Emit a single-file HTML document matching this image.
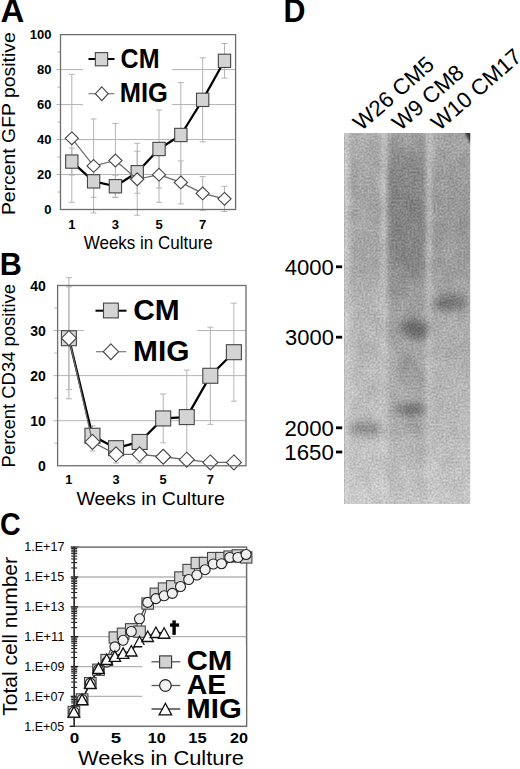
<!DOCTYPE html>
<html><head><meta charset="utf-8"><style>
html,body{margin:0;padding:0;background:#fff;width:520px;height:769px;overflow:hidden}
svg{display:block}
text{font-family:"Liberation Sans",sans-serif}
</style></head><body>
<svg width="520" height="769" viewBox="0 0 520 769" font-family="Liberation Sans, sans-serif">
<line x1="56.50" y1="174.52" x2="235.60" y2="174.52" stroke="#b4b4b4" stroke-width="1" />
<line x1="56.50" y1="139.54" x2="235.60" y2="139.54" stroke="#b4b4b4" stroke-width="1" />
<line x1="56.50" y1="104.56" x2="235.60" y2="104.56" stroke="#b4b4b4" stroke-width="1" />
<line x1="56.50" y1="69.58" x2="235.60" y2="69.58" stroke="#b4b4b4" stroke-width="1" />
<line x1="57.30" y1="192.01" x2="60.50" y2="192.01" stroke="#b4b4b4" stroke-width="1" />
<line x1="57.30" y1="157.03" x2="60.50" y2="157.03" stroke="#b4b4b4" stroke-width="1" />
<line x1="57.30" y1="122.05" x2="60.50" y2="122.05" stroke="#b4b4b4" stroke-width="1" />
<line x1="57.30" y1="87.07" x2="60.50" y2="87.07" stroke="#b4b4b4" stroke-width="1" />
<line x1="57.30" y1="52.09" x2="60.50" y2="52.09" stroke="#b4b4b4" stroke-width="1" />
<line x1="71.80" y1="74.32" x2="71.80" y2="202.32" stroke="#b4b4b4" stroke-width="1" />
<line x1="68.80" y1="74.32" x2="74.80" y2="74.32" stroke="#b4b4b4" stroke-width="1" />
<line x1="68.80" y1="202.32" x2="74.80" y2="202.32" stroke="#b4b4b4" stroke-width="1" />
<line x1="71.80" y1="148.08" x2="71.80" y2="175.08" stroke="#b4b4b4" stroke-width="1" />
<line x1="68.80" y1="148.08" x2="74.80" y2="148.08" stroke="#b4b4b4" stroke-width="1" />
<line x1="68.80" y1="175.08" x2="74.80" y2="175.08" stroke="#b4b4b4" stroke-width="1" />
<line x1="93.61" y1="118.95" x2="93.61" y2="212.95" stroke="#b4b4b4" stroke-width="1" />
<line x1="90.61" y1="118.95" x2="96.61" y2="118.95" stroke="#b4b4b4" stroke-width="1" />
<line x1="90.61" y1="212.95" x2="96.61" y2="212.95" stroke="#b4b4b4" stroke-width="1" />
<line x1="93.61" y1="165.34" x2="93.61" y2="197.34" stroke="#b4b4b4" stroke-width="1" />
<line x1="90.61" y1="165.34" x2="96.61" y2="165.34" stroke="#b4b4b4" stroke-width="1" />
<line x1="90.61" y1="197.34" x2="96.61" y2="197.34" stroke="#b4b4b4" stroke-width="1" />
<line x1="115.42" y1="123.53" x2="115.42" y2="197.53" stroke="#b4b4b4" stroke-width="1" />
<line x1="112.42" y1="123.53" x2="118.42" y2="123.53" stroke="#b4b4b4" stroke-width="1" />
<line x1="112.42" y1="197.53" x2="118.42" y2="197.53" stroke="#b4b4b4" stroke-width="1" />
<line x1="115.42" y1="175.24" x2="115.42" y2="197.24" stroke="#b4b4b4" stroke-width="1" />
<line x1="112.42" y1="175.24" x2="118.42" y2="175.24" stroke="#b4b4b4" stroke-width="1" />
<line x1="112.42" y1="197.24" x2="118.42" y2="197.24" stroke="#b4b4b4" stroke-width="1" />
<line x1="137.23" y1="143.24" x2="137.23" y2="215.24" stroke="#b4b4b4" stroke-width="1" />
<line x1="134.23" y1="143.24" x2="140.23" y2="143.24" stroke="#b4b4b4" stroke-width="1" />
<line x1="134.23" y1="215.24" x2="140.23" y2="215.24" stroke="#b4b4b4" stroke-width="1" />
<line x1="137.23" y1="151.25" x2="137.23" y2="193.25" stroke="#b4b4b4" stroke-width="1" />
<line x1="134.23" y1="151.25" x2="140.23" y2="151.25" stroke="#b4b4b4" stroke-width="1" />
<line x1="134.23" y1="193.25" x2="140.23" y2="193.25" stroke="#b4b4b4" stroke-width="1" />
<line x1="159.04" y1="147.09" x2="159.04" y2="202.29" stroke="#b4b4b4" stroke-width="1" />
<line x1="156.04" y1="147.09" x2="162.04" y2="147.09" stroke="#b4b4b4" stroke-width="1" />
<line x1="156.04" y1="202.29" x2="162.04" y2="202.29" stroke="#b4b4b4" stroke-width="1" />
<line x1="159.04" y1="109.98" x2="159.04" y2="187.98" stroke="#b4b4b4" stroke-width="1" />
<line x1="156.04" y1="109.98" x2="162.04" y2="109.98" stroke="#b4b4b4" stroke-width="1" />
<line x1="156.04" y1="187.98" x2="162.04" y2="187.98" stroke="#b4b4b4" stroke-width="1" />
<line x1="180.85" y1="160.89" x2="180.85" y2="203.89" stroke="#b4b4b4" stroke-width="1" />
<line x1="177.85" y1="160.89" x2="183.85" y2="160.89" stroke="#b4b4b4" stroke-width="1" />
<line x1="177.85" y1="203.89" x2="183.85" y2="203.89" stroke="#b4b4b4" stroke-width="1" />
<line x1="180.85" y1="82.59" x2="180.85" y2="187.39" stroke="#b4b4b4" stroke-width="1" />
<line x1="177.85" y1="82.59" x2="183.85" y2="82.59" stroke="#b4b4b4" stroke-width="1" />
<line x1="177.85" y1="187.39" x2="183.85" y2="187.39" stroke="#b4b4b4" stroke-width="1" />
<line x1="202.66" y1="176.61" x2="202.66" y2="210.21" stroke="#b4b4b4" stroke-width="1" />
<line x1="199.66" y1="176.61" x2="205.66" y2="176.61" stroke="#b4b4b4" stroke-width="1" />
<line x1="199.66" y1="210.21" x2="205.66" y2="210.21" stroke="#b4b4b4" stroke-width="1" />
<line x1="202.66" y1="57.84" x2="202.66" y2="141.84" stroke="#b4b4b4" stroke-width="1" />
<line x1="199.66" y1="57.84" x2="205.66" y2="57.84" stroke="#b4b4b4" stroke-width="1" />
<line x1="199.66" y1="141.84" x2="205.66" y2="141.84" stroke="#b4b4b4" stroke-width="1" />
<line x1="224.47" y1="186.23" x2="224.47" y2="211.43" stroke="#b4b4b4" stroke-width="1" />
<line x1="221.47" y1="186.23" x2="227.47" y2="186.23" stroke="#b4b4b4" stroke-width="1" />
<line x1="221.47" y1="211.43" x2="227.47" y2="211.43" stroke="#b4b4b4" stroke-width="1" />
<line x1="224.47" y1="43.53" x2="224.47" y2="78.13" stroke="#b4b4b4" stroke-width="1" />
<line x1="221.47" y1="43.53" x2="227.47" y2="43.53" stroke="#b4b4b4" stroke-width="1" />
<line x1="221.47" y1="78.13" x2="227.47" y2="78.13" stroke="#b4b4b4" stroke-width="1" />
<polyline points="71.80,161.58 93.61,181.34 115.42,186.24 137.23,172.25 159.04,148.98 180.85,134.99 202.66,99.84 224.47,60.83" fill="none" stroke="#000" stroke-width="2.2" stroke-linejoin="round"/>
<rect x="65.65" y="154.93" width="12.30" height="13.30" fill="#d4d4d4" stroke="#444" stroke-width="1.1"/>
<rect x="87.46" y="174.69" width="12.30" height="13.30" fill="#d4d4d4" stroke="#444" stroke-width="1.1"/>
<rect x="109.27" y="179.59" width="12.30" height="13.30" fill="#d4d4d4" stroke="#444" stroke-width="1.1"/>
<rect x="131.08" y="165.60" width="12.30" height="13.30" fill="#d4d4d4" stroke="#444" stroke-width="1.1"/>
<rect x="152.89" y="142.33" width="12.30" height="13.30" fill="#d4d4d4" stroke="#444" stroke-width="1.1"/>
<rect x="174.70" y="128.34" width="12.30" height="13.30" fill="#d4d4d4" stroke="#444" stroke-width="1.1"/>
<rect x="196.51" y="93.19" width="12.30" height="13.30" fill="#d4d4d4" stroke="#444" stroke-width="1.1"/>
<rect x="218.32" y="54.18" width="12.30" height="13.30" fill="#d4d4d4" stroke="#444" stroke-width="1.1"/>
<polyline points="71.80,138.32 93.61,165.95 115.42,160.53 137.23,179.24 159.04,174.69 180.85,182.39 202.66,193.41 224.47,198.83" fill="none" stroke="#6a6a6a" stroke-width="1.2" stroke-linejoin="round"/>
<polygon points="71.80,131.92 78.40,138.32 71.80,144.72 65.20,138.32" fill="#fff" stroke="#444" stroke-width="1.1"/>
<polygon points="93.61,159.55 100.21,165.95 93.61,172.35 87.01,165.95" fill="#fff" stroke="#444" stroke-width="1.1"/>
<polygon points="115.42,154.13 122.02,160.53 115.42,166.93 108.82,160.53" fill="#fff" stroke="#444" stroke-width="1.1"/>
<polygon points="137.23,172.84 143.83,179.24 137.23,185.64 130.63,179.24" fill="#fff" stroke="#444" stroke-width="1.1"/>
<polygon points="159.04,168.29 165.64,174.69 159.04,181.09 152.44,174.69" fill="#fff" stroke="#444" stroke-width="1.1"/>
<polygon points="180.85,175.99 187.45,182.39 180.85,188.79 174.25,182.39" fill="#fff" stroke="#444" stroke-width="1.1"/>
<polygon points="202.66,187.01 209.26,193.41 202.66,199.81 196.06,193.41" fill="#fff" stroke="#444" stroke-width="1.1"/>
<polygon points="224.47,192.43 231.07,198.83 224.47,205.23 217.87,198.83" fill="#fff" stroke="#444" stroke-width="1.1"/>
<rect x="83.00" y="39.00" width="89.00" height="70.00" fill="#fff"/>
<line x1="88.50" y1="59.00" x2="114.50" y2="59.00" stroke="#000" stroke-width="2" />
<rect x="95.35" y="52.60" width="12.30" height="13.20" fill="#d4d4d4" stroke="#444" stroke-width="1.1"/>
<line x1="88.50" y1="93.70" x2="114.50" y2="93.70" stroke="#7a7a7a" stroke-width="1.2" />
<polygon points="101.80,86.80 108.20,93.70 101.80,100.60 95.40,93.70" fill="#fff" stroke="#444" stroke-width="1.1"/>
<rect x="60.5" y="34.6" width="175.1" height="174.9" fill="none" stroke="#6e6e6e" stroke-width="1.3"/>
<text transform="translate(120.60,68.20) scale(0.9146,1)" font-size="27.39" font-weight="bold">CM</text>
<text transform="translate(119.74,102.20) scale(0.9314,1)" font-size="27.39" font-weight="bold">MIG</text>
<text x="51.40" y="214.10" font-size="13.00" font-weight="bold" text-anchor="end" fill="#000" >0</text>
<text x="51.40" y="179.12" font-size="13.00" font-weight="bold" text-anchor="end" fill="#000" >20</text>
<text x="51.40" y="144.14" font-size="13.00" font-weight="bold" text-anchor="end" fill="#000" >40</text>
<text x="51.40" y="109.16" font-size="13.00" font-weight="bold" text-anchor="end" fill="#000" >60</text>
<text x="51.40" y="74.18" font-size="13.00" font-weight="bold" text-anchor="end" fill="#000" >80</text>
<text x="51.40" y="39.20" font-size="13.00" font-weight="bold" text-anchor="end" fill="#000" >100</text>
<text x="71.80" y="228.80" font-size="13.00" font-weight="bold" text-anchor="middle" fill="#000" >1</text>
<text x="115.42" y="228.80" font-size="13.00" font-weight="bold" text-anchor="middle" fill="#000" >3</text>
<text x="159.04" y="228.80" font-size="13.00" font-weight="bold" text-anchor="middle" fill="#000" >5</text>
<text x="202.66" y="228.80" font-size="13.00" font-weight="bold" text-anchor="middle" fill="#000" >7</text>
<text transform="translate(83.71,248.80) scale(0.9539,1)" font-size="17.83">Weeks in Culture</text>
<text transform="translate(14.90,215.05) rotate(-90) scale(1.0098,1)" font-size="19.20">Percent GFP positive</text>
<text transform="translate(0.48,22.20) scale(0.9982,1)" font-size="33.04" font-weight="bold">A</text>
<line x1="53.50" y1="420.69" x2="246.00" y2="420.69" stroke="#b4b4b4" stroke-width="1" />
<line x1="53.50" y1="375.63" x2="246.00" y2="375.63" stroke="#b4b4b4" stroke-width="1" />
<line x1="53.50" y1="330.57" x2="246.00" y2="330.57" stroke="#b4b4b4" stroke-width="1" />
<line x1="54.50" y1="443.22" x2="57.60" y2="443.22" stroke="#b4b4b4" stroke-width="1" />
<line x1="54.50" y1="398.16" x2="57.60" y2="398.16" stroke="#b4b4b4" stroke-width="1" />
<line x1="54.50" y1="353.10" x2="57.60" y2="353.10" stroke="#b4b4b4" stroke-width="1" />
<line x1="54.50" y1="308.04" x2="57.60" y2="308.04" stroke="#b4b4b4" stroke-width="1" />
<line x1="68.90" y1="277.63" x2="68.90" y2="398.83" stroke="#b4b4b4" stroke-width="1" />
<line x1="65.90" y1="277.63" x2="71.90" y2="277.63" stroke="#b4b4b4" stroke-width="1" />
<line x1="65.90" y1="398.83" x2="71.90" y2="398.83" stroke="#b4b4b4" stroke-width="1" />
<line x1="68.90" y1="286.83" x2="68.90" y2="389.63" stroke="#b4b4b4" stroke-width="1" />
<line x1="65.90" y1="286.83" x2="71.90" y2="286.83" stroke="#b4b4b4" stroke-width="1" />
<line x1="65.90" y1="389.63" x2="71.90" y2="389.63" stroke="#b4b4b4" stroke-width="1" />
<line x1="92.47" y1="432.96" x2="92.47" y2="450.96" stroke="#b4b4b4" stroke-width="1" />
<line x1="89.47" y1="432.96" x2="95.47" y2="432.96" stroke="#b4b4b4" stroke-width="1" />
<line x1="89.47" y1="450.96" x2="95.47" y2="450.96" stroke="#b4b4b4" stroke-width="1" />
<line x1="92.47" y1="425.74" x2="92.47" y2="445.74" stroke="#b4b4b4" stroke-width="1" />
<line x1="89.47" y1="425.74" x2="95.47" y2="425.74" stroke="#b4b4b4" stroke-width="1" />
<line x1="89.47" y1="445.74" x2="95.47" y2="445.74" stroke="#b4b4b4" stroke-width="1" />
<line x1="116.04" y1="445.60" x2="116.04" y2="463.00" stroke="#b4b4b4" stroke-width="1" />
<line x1="113.04" y1="445.60" x2="119.04" y2="445.60" stroke="#b4b4b4" stroke-width="1" />
<line x1="113.04" y1="463.00" x2="119.04" y2="463.00" stroke="#b4b4b4" stroke-width="1" />
<line x1="116.04" y1="442.18" x2="116.04" y2="454.18" stroke="#b4b4b4" stroke-width="1" />
<line x1="113.04" y1="442.18" x2="119.04" y2="442.18" stroke="#b4b4b4" stroke-width="1" />
<line x1="113.04" y1="454.18" x2="119.04" y2="454.18" stroke="#b4b4b4" stroke-width="1" />
<line x1="139.61" y1="445.60" x2="139.61" y2="463.00" stroke="#b4b4b4" stroke-width="1" />
<line x1="136.61" y1="445.60" x2="142.61" y2="445.60" stroke="#b4b4b4" stroke-width="1" />
<line x1="136.61" y1="463.00" x2="142.61" y2="463.00" stroke="#b4b4b4" stroke-width="1" />
<line x1="139.61" y1="434.96" x2="139.61" y2="448.96" stroke="#b4b4b4" stroke-width="1" />
<line x1="136.61" y1="434.96" x2="142.61" y2="434.96" stroke="#b4b4b4" stroke-width="1" />
<line x1="136.61" y1="448.96" x2="142.61" y2="448.96" stroke="#b4b4b4" stroke-width="1" />
<line x1="163.18" y1="451.74" x2="163.18" y2="461.74" stroke="#b4b4b4" stroke-width="1" />
<line x1="160.18" y1="451.74" x2="166.18" y2="451.74" stroke="#b4b4b4" stroke-width="1" />
<line x1="160.18" y1="461.74" x2="166.18" y2="461.74" stroke="#b4b4b4" stroke-width="1" />
<line x1="163.18" y1="394.04" x2="163.18" y2="442.84" stroke="#b4b4b4" stroke-width="1" />
<line x1="160.18" y1="394.04" x2="166.18" y2="394.04" stroke="#b4b4b4" stroke-width="1" />
<line x1="160.18" y1="442.84" x2="166.18" y2="442.84" stroke="#b4b4b4" stroke-width="1" />
<line x1="186.75" y1="455.71" x2="186.75" y2="463.71" stroke="#b4b4b4" stroke-width="1" />
<line x1="183.75" y1="455.71" x2="189.75" y2="455.71" stroke="#b4b4b4" stroke-width="1" />
<line x1="183.75" y1="463.71" x2="189.75" y2="463.71" stroke="#b4b4b4" stroke-width="1" />
<line x1="186.75" y1="370.09" x2="186.75" y2="464.09" stroke="#b4b4b4" stroke-width="1" />
<line x1="183.75" y1="370.09" x2="189.75" y2="370.09" stroke="#b4b4b4" stroke-width="1" />
<line x1="183.75" y1="464.09" x2="189.75" y2="464.09" stroke="#b4b4b4" stroke-width="1" />
<line x1="210.32" y1="459.42" x2="210.32" y2="465.42" stroke="#b4b4b4" stroke-width="1" />
<line x1="207.32" y1="459.42" x2="213.32" y2="459.42" stroke="#b4b4b4" stroke-width="1" />
<line x1="207.32" y1="465.42" x2="213.32" y2="465.42" stroke="#b4b4b4" stroke-width="1" />
<line x1="210.32" y1="327.17" x2="210.32" y2="424.37" stroke="#b4b4b4" stroke-width="1" />
<line x1="207.32" y1="327.17" x2="213.32" y2="327.17" stroke="#b4b4b4" stroke-width="1" />
<line x1="207.32" y1="424.37" x2="213.32" y2="424.37" stroke="#b4b4b4" stroke-width="1" />
<line x1="233.89" y1="459.42" x2="233.89" y2="465.42" stroke="#b4b4b4" stroke-width="1" />
<line x1="230.89" y1="459.42" x2="236.89" y2="459.42" stroke="#b4b4b4" stroke-width="1" />
<line x1="230.89" y1="465.42" x2="236.89" y2="465.42" stroke="#b4b4b4" stroke-width="1" />
<line x1="233.89" y1="303.20" x2="233.89" y2="401.20" stroke="#b4b4b4" stroke-width="1" />
<line x1="230.89" y1="303.20" x2="236.89" y2="303.20" stroke="#b4b4b4" stroke-width="1" />
<line x1="230.89" y1="401.20" x2="236.89" y2="401.20" stroke="#b4b4b4" stroke-width="1" />
<polyline points="68.90,338.23 92.47,435.74 116.04,448.18 139.61,441.96 163.18,418.44 186.75,417.09 210.32,375.77 233.89,352.20" fill="none" stroke="#000" stroke-width="2.3" stroke-linejoin="round"/>
<rect x="61.40" y="330.73" width="15.00" height="15.00" fill="#d4d4d4" stroke="#444" stroke-width="1.1"/>
<rect x="84.97" y="428.24" width="15.00" height="15.00" fill="#d4d4d4" stroke="#444" stroke-width="1.1"/>
<rect x="108.54" y="440.68" width="15.00" height="15.00" fill="#d4d4d4" stroke="#444" stroke-width="1.1"/>
<rect x="132.11" y="434.46" width="15.00" height="15.00" fill="#d4d4d4" stroke="#444" stroke-width="1.1"/>
<rect x="155.68" y="410.94" width="15.00" height="15.00" fill="#d4d4d4" stroke="#444" stroke-width="1.1"/>
<rect x="179.25" y="409.59" width="15.00" height="15.00" fill="#d4d4d4" stroke="#444" stroke-width="1.1"/>
<rect x="202.82" y="368.27" width="15.00" height="15.00" fill="#d4d4d4" stroke="#444" stroke-width="1.1"/>
<rect x="226.39" y="344.70" width="15.00" height="15.00" fill="#d4d4d4" stroke="#444" stroke-width="1.1"/>
<polyline points="68.90,338.23 92.47,441.96 116.04,454.30 139.61,454.30 163.18,456.74 186.75,459.71 210.32,462.42 233.89,462.42" fill="none" stroke="#6a6a6a" stroke-width="1.3" stroke-linejoin="round"/>
<polygon points="68.90,330.73 76.40,338.23 68.90,345.73 61.40,338.23" fill="#fff" stroke="#444" stroke-width="1.1"/>
<polygon points="92.47,434.46 99.97,441.96 92.47,449.46 84.97,441.96" fill="#fff" stroke="#444" stroke-width="1.1"/>
<polygon points="116.04,446.80 123.54,454.30 116.04,461.80 108.54,454.30" fill="#fff" stroke="#444" stroke-width="1.1"/>
<polygon points="139.61,446.80 147.11,454.30 139.61,461.80 132.11,454.30" fill="#fff" stroke="#444" stroke-width="1.1"/>
<polygon points="163.18,449.24 170.68,456.74 163.18,464.24 155.68,456.74" fill="#fff" stroke="#444" stroke-width="1.1"/>
<polygon points="186.75,452.21 194.25,459.71 186.75,467.21 179.25,459.71" fill="#fff" stroke="#444" stroke-width="1.1"/>
<polygon points="210.32,454.92 217.82,462.42 210.32,469.92 202.82,462.42" fill="#fff" stroke="#444" stroke-width="1.1"/>
<polygon points="233.89,454.92 241.39,462.42 233.89,469.92 226.39,462.42" fill="#fff" stroke="#444" stroke-width="1.1"/>
<rect x="84.00" y="290.00" width="113.00" height="78.00" fill="#fff"/>
<line x1="95.50" y1="310.70" x2="126.50" y2="310.70" stroke="#000" stroke-width="2" />
<rect x="103.50" y="303.10" width="14.80" height="14.80" fill="#d4d4d4" stroke="#444" stroke-width="1.1"/>
<line x1="96.00" y1="351.70" x2="126.20" y2="351.70" stroke="#7a7a7a" stroke-width="1.2" />
<polygon points="110.90,343.80 118.55,351.70 110.90,359.60 103.25,351.70" fill="#fff" stroke="#444" stroke-width="1.1"/>
<rect x="57.6" y="285.5" width="188.4" height="180.25" fill="none" stroke="#6e6e6e" stroke-width="1.3"/>
<text transform="translate(133.20,320.30) scale(0.9965,1)" font-size="30.00" font-weight="bold">CM</text>
<text transform="translate(133.06,361.20) scale(0.9962,1)" font-size="30.00" font-weight="bold">MIG</text>
<text x="45.80" y="470.75" font-size="14.00" font-weight="bold" text-anchor="end" fill="#000" >0</text>
<text x="45.80" y="425.69" font-size="14.00" font-weight="bold" text-anchor="end" fill="#000" >10</text>
<text x="45.80" y="380.63" font-size="14.00" font-weight="bold" text-anchor="end" fill="#000" >20</text>
<text x="45.80" y="335.57" font-size="14.00" font-weight="bold" text-anchor="end" fill="#000" >30</text>
<text x="45.80" y="290.51" font-size="14.00" font-weight="bold" text-anchor="end" fill="#000" >40</text>
<text x="68.90" y="484.30" font-size="12.80" font-weight="bold" text-anchor="middle" fill="#000" >1</text>
<text x="116.04" y="484.30" font-size="12.80" font-weight="bold" text-anchor="middle" fill="#000" >3</text>
<text x="163.18" y="484.30" font-size="12.80" font-weight="bold" text-anchor="middle" fill="#000" >5</text>
<text x="210.32" y="484.30" font-size="12.80" font-weight="bold" text-anchor="middle" fill="#000" >7</text>
<text transform="translate(76.40,505.40) scale(1.0297,1)" font-size="18.99">Weeks in Culture</text>
<text transform="translate(14.60,467.38) rotate(-90) scale(0.9996,1)" font-size="18.45">Percent CD34 positive</text>
<text transform="translate(-0.14,274.50) scale(0.9633,1)" font-size="31.74" font-weight="bold">B</text>
<line x1="74.20" y1="696.44" x2="246.60" y2="696.44" stroke="#b4b4b4" stroke-width="1.3" />
<line x1="74.20" y1="666.58" x2="246.60" y2="666.58" stroke="#b4b4b4" stroke-width="1.3" />
<line x1="74.20" y1="636.72" x2="246.60" y2="636.72" stroke="#b4b4b4" stroke-width="1.3" />
<line x1="74.20" y1="606.86" x2="246.60" y2="606.86" stroke="#b4b4b4" stroke-width="1.3" />
<line x1="74.20" y1="577.00" x2="246.60" y2="577.00" stroke="#b4b4b4" stroke-width="1.3" />
<line x1="71.20" y1="548.54" x2="77.20" y2="548.54" stroke="#1a1a1a" stroke-width="1.1" />
<line x1="71.20" y1="550.24" x2="77.20" y2="550.24" stroke="#1a1a1a" stroke-width="1.1" />
<line x1="71.20" y1="551.84" x2="77.20" y2="551.84" stroke="#1a1a1a" stroke-width="1.1" />
<line x1="71.20" y1="553.64" x2="77.20" y2="553.64" stroke="#1a1a1a" stroke-width="1.1" />
<line x1="71.20" y1="556.14" x2="77.20" y2="556.14" stroke="#1a1a1a" stroke-width="1.1" />
<line x1="71.20" y1="558.94" x2="77.20" y2="558.94" stroke="#1a1a1a" stroke-width="1.1" />
<line x1="71.20" y1="562.64" x2="77.20" y2="562.64" stroke="#1a1a1a" stroke-width="1.1" />
<line x1="71.20" y1="567.94" x2="77.20" y2="567.94" stroke="#1a1a1a" stroke-width="1.1" />
<line x1="70.70" y1="547.14" x2="78.20" y2="547.14" stroke="#1a1a1a" stroke-width="1.4" />
<line x1="71.20" y1="578.40" x2="77.20" y2="578.40" stroke="#1a1a1a" stroke-width="1.1" />
<line x1="71.20" y1="580.10" x2="77.20" y2="580.10" stroke="#1a1a1a" stroke-width="1.1" />
<line x1="71.20" y1="581.70" x2="77.20" y2="581.70" stroke="#1a1a1a" stroke-width="1.1" />
<line x1="71.20" y1="583.50" x2="77.20" y2="583.50" stroke="#1a1a1a" stroke-width="1.1" />
<line x1="71.20" y1="586.00" x2="77.20" y2="586.00" stroke="#1a1a1a" stroke-width="1.1" />
<line x1="71.20" y1="588.80" x2="77.20" y2="588.80" stroke="#1a1a1a" stroke-width="1.1" />
<line x1="71.20" y1="592.50" x2="77.20" y2="592.50" stroke="#1a1a1a" stroke-width="1.1" />
<line x1="71.20" y1="597.80" x2="77.20" y2="597.80" stroke="#1a1a1a" stroke-width="1.1" />
<line x1="70.70" y1="577.00" x2="78.20" y2="577.00" stroke="#1a1a1a" stroke-width="1.4" />
<line x1="71.20" y1="608.26" x2="77.20" y2="608.26" stroke="#1a1a1a" stroke-width="1.1" />
<line x1="71.20" y1="609.96" x2="77.20" y2="609.96" stroke="#1a1a1a" stroke-width="1.1" />
<line x1="71.20" y1="611.56" x2="77.20" y2="611.56" stroke="#1a1a1a" stroke-width="1.1" />
<line x1="71.20" y1="613.36" x2="77.20" y2="613.36" stroke="#1a1a1a" stroke-width="1.1" />
<line x1="71.20" y1="615.86" x2="77.20" y2="615.86" stroke="#1a1a1a" stroke-width="1.1" />
<line x1="71.20" y1="618.66" x2="77.20" y2="618.66" stroke="#1a1a1a" stroke-width="1.1" />
<line x1="71.20" y1="622.36" x2="77.20" y2="622.36" stroke="#1a1a1a" stroke-width="1.1" />
<line x1="71.20" y1="627.66" x2="77.20" y2="627.66" stroke="#1a1a1a" stroke-width="1.1" />
<line x1="70.70" y1="606.86" x2="78.20" y2="606.86" stroke="#1a1a1a" stroke-width="1.4" />
<line x1="71.20" y1="638.12" x2="77.20" y2="638.12" stroke="#1a1a1a" stroke-width="1.1" />
<line x1="71.20" y1="639.82" x2="77.20" y2="639.82" stroke="#1a1a1a" stroke-width="1.1" />
<line x1="71.20" y1="641.42" x2="77.20" y2="641.42" stroke="#1a1a1a" stroke-width="1.1" />
<line x1="71.20" y1="643.22" x2="77.20" y2="643.22" stroke="#1a1a1a" stroke-width="1.1" />
<line x1="71.20" y1="645.72" x2="77.20" y2="645.72" stroke="#1a1a1a" stroke-width="1.1" />
<line x1="71.20" y1="648.52" x2="77.20" y2="648.52" stroke="#1a1a1a" stroke-width="1.1" />
<line x1="71.20" y1="652.22" x2="77.20" y2="652.22" stroke="#1a1a1a" stroke-width="1.1" />
<line x1="71.20" y1="657.52" x2="77.20" y2="657.52" stroke="#1a1a1a" stroke-width="1.1" />
<line x1="70.70" y1="636.72" x2="78.20" y2="636.72" stroke="#1a1a1a" stroke-width="1.4" />
<line x1="71.20" y1="667.98" x2="77.20" y2="667.98" stroke="#1a1a1a" stroke-width="1.1" />
<line x1="71.20" y1="669.68" x2="77.20" y2="669.68" stroke="#1a1a1a" stroke-width="1.1" />
<line x1="71.20" y1="671.28" x2="77.20" y2="671.28" stroke="#1a1a1a" stroke-width="1.1" />
<line x1="71.20" y1="673.08" x2="77.20" y2="673.08" stroke="#1a1a1a" stroke-width="1.1" />
<line x1="71.20" y1="675.58" x2="77.20" y2="675.58" stroke="#1a1a1a" stroke-width="1.1" />
<line x1="71.20" y1="678.38" x2="77.20" y2="678.38" stroke="#1a1a1a" stroke-width="1.1" />
<line x1="71.20" y1="682.08" x2="77.20" y2="682.08" stroke="#1a1a1a" stroke-width="1.1" />
<line x1="71.20" y1="687.38" x2="77.20" y2="687.38" stroke="#1a1a1a" stroke-width="1.1" />
<line x1="70.70" y1="666.58" x2="78.20" y2="666.58" stroke="#1a1a1a" stroke-width="1.4" />
<line x1="71.20" y1="697.84" x2="77.20" y2="697.84" stroke="#1a1a1a" stroke-width="1.1" />
<line x1="71.20" y1="699.54" x2="77.20" y2="699.54" stroke="#1a1a1a" stroke-width="1.1" />
<line x1="71.20" y1="701.14" x2="77.20" y2="701.14" stroke="#1a1a1a" stroke-width="1.1" />
<line x1="71.20" y1="702.94" x2="77.20" y2="702.94" stroke="#1a1a1a" stroke-width="1.1" />
<line x1="71.20" y1="705.44" x2="77.20" y2="705.44" stroke="#1a1a1a" stroke-width="1.1" />
<line x1="71.20" y1="708.24" x2="77.20" y2="708.24" stroke="#1a1a1a" stroke-width="1.1" />
<line x1="71.20" y1="711.94" x2="77.20" y2="711.94" stroke="#1a1a1a" stroke-width="1.1" />
<line x1="71.20" y1="717.24" x2="77.20" y2="717.24" stroke="#1a1a1a" stroke-width="1.1" />
<line x1="70.70" y1="696.44" x2="78.20" y2="696.44" stroke="#1a1a1a" stroke-width="1.4" />
<line x1="69.70" y1="726.30" x2="74.20" y2="726.30" stroke="#1a1a1a" stroke-width="1.4" />
<rect x="74.2" y="547.1" width="172.39999999999998" height="179.19999999999993" fill="none" stroke="#6e6e6e" stroke-width="1.5"/>
<line x1="74.20" y1="546.40" x2="74.20" y2="727.00" stroke="#262626" stroke-width="1.4" />
<text transform="translate(24.26,551.34) scale(1.0452,1)" font-size="12.03">1.E+17</text>
<text transform="translate(24.26,581.20) scale(1.0419,1)" font-size="12.03">1.E+15</text>
<text transform="translate(24.26,611.06) scale(1.0435,1)" font-size="12.03">1.E+13</text>
<text transform="translate(24.23,640.92) scale(1.0714,1)" font-size="12.03">1.E+11</text>
<text transform="translate(24.26,670.78) scale(1.0435,1)" font-size="12.03">1.E+09</text>
<text transform="translate(24.26,700.64) scale(1.0452,1)" font-size="12.03">1.E+07</text>
<text transform="translate(24.26,730.50) scale(1.0419,1)" font-size="12.03">1.E+05</text>
<text transform="translate(69.72,743.40) scale(1.1870,1)" font-size="14.37" font-weight="bold">0</text>
<text transform="translate(110.64,743.40) scale(1.2947,1)" font-size="14.37" font-weight="bold">5</text>
<text transform="translate(147.75,743.40) scale(1.1220,1)" font-size="14.37" font-weight="bold">10</text>
<text transform="translate(188.33,743.40) scale(1.1465,1)" font-size="14.37" font-weight="bold">15</text>
<text transform="translate(229.93,743.40) scale(1.1299,1)" font-size="14.37" font-weight="bold">20</text>
<text transform="translate(78.09,764.80) scale(1.0460,1)" font-size="20.87">Weeks in Culture</text>
<text transform="translate(17.00,715.82) rotate(-90) scale(1.0018,1)" font-size="21.00">Total cell number</text>
<text transform="translate(0.00,535.10) scale(0.9026,1)" font-size="31.71" font-weight="bold">C</text>
<polyline points="73.90,711.97 82.10,699.43 90.30,683.15 98.50,669.72 106.70,660.01 114.90,637.47 123.10,633.73 131.30,629.25 139.50,631.64 147.70,603.58 155.90,593.72 164.10,588.50 172.30,586.26 180.50,577.45 188.70,569.98 196.90,562.97 205.10,562.97 213.30,558.04 221.50,558.04 229.70,556.55 237.90,555.35 246.10,557.44" fill="none" stroke="#555" stroke-width="1.2" stroke-linejoin="round"/>
<polyline points="73.90,711.97 82.10,699.43 90.30,683.15 98.50,669.72 106.70,662.10 114.90,646.87 123.10,640.30 131.30,631.49 139.50,618.80 147.70,602.38 155.90,598.65 164.10,595.81 172.30,593.42 180.50,586.56 188.70,579.54 196.90,575.06 205.10,569.68 213.30,564.01 221.50,563.71 229.70,557.44 237.90,557.44 246.10,554.46" fill="none" stroke="#333" stroke-width="1.2" stroke-linejoin="round"/>
<polyline points="73.90,711.97 82.10,699.43 90.30,683.15 98.50,668.07 106.70,659.26 114.90,656.13 123.10,653.14 131.30,650.75 139.50,641.50 147.70,636.27 155.90,632.24 164.10,632.99" fill="none" stroke="#222" stroke-width="1.3" stroke-linejoin="round"/>
<rect x="68.10" y="706.37" width="11.60" height="11.20" fill="#d4d4d4" stroke="#444" stroke-width="1.1"/>
<rect x="76.30" y="693.83" width="11.60" height="11.20" fill="#d4d4d4" stroke="#444" stroke-width="1.1"/>
<rect x="84.50" y="677.55" width="11.60" height="11.20" fill="#d4d4d4" stroke="#444" stroke-width="1.1"/>
<rect x="92.70" y="664.12" width="11.60" height="11.20" fill="#d4d4d4" stroke="#444" stroke-width="1.1"/>
<rect x="100.90" y="654.41" width="11.60" height="11.20" fill="#d4d4d4" stroke="#444" stroke-width="1.1"/>
<rect x="109.10" y="631.87" width="11.60" height="11.20" fill="#d4d4d4" stroke="#444" stroke-width="1.1"/>
<rect x="117.30" y="628.13" width="11.60" height="11.20" fill="#d4d4d4" stroke="#444" stroke-width="1.1"/>
<rect x="125.50" y="623.65" width="11.60" height="11.20" fill="#d4d4d4" stroke="#444" stroke-width="1.1"/>
<rect x="133.70" y="626.04" width="11.60" height="11.20" fill="#d4d4d4" stroke="#444" stroke-width="1.1"/>
<rect x="141.90" y="597.98" width="11.60" height="11.20" fill="#d4d4d4" stroke="#444" stroke-width="1.1"/>
<rect x="150.10" y="588.12" width="11.60" height="11.20" fill="#d4d4d4" stroke="#444" stroke-width="1.1"/>
<rect x="158.30" y="582.90" width="11.60" height="11.20" fill="#d4d4d4" stroke="#444" stroke-width="1.1"/>
<rect x="166.50" y="580.66" width="11.60" height="11.20" fill="#d4d4d4" stroke="#444" stroke-width="1.1"/>
<rect x="174.70" y="571.85" width="11.60" height="11.20" fill="#d4d4d4" stroke="#444" stroke-width="1.1"/>
<rect x="182.90" y="564.38" width="11.60" height="11.20" fill="#d4d4d4" stroke="#444" stroke-width="1.1"/>
<rect x="191.10" y="557.37" width="11.60" height="11.20" fill="#d4d4d4" stroke="#444" stroke-width="1.1"/>
<rect x="199.30" y="557.37" width="11.60" height="11.20" fill="#d4d4d4" stroke="#444" stroke-width="1.1"/>
<rect x="207.50" y="552.44" width="11.60" height="11.20" fill="#d4d4d4" stroke="#444" stroke-width="1.1"/>
<rect x="215.70" y="552.44" width="11.60" height="11.20" fill="#d4d4d4" stroke="#444" stroke-width="1.1"/>
<rect x="223.90" y="550.95" width="11.60" height="11.20" fill="#d4d4d4" stroke="#444" stroke-width="1.1"/>
<rect x="232.10" y="549.75" width="11.60" height="11.20" fill="#d4d4d4" stroke="#444" stroke-width="1.1"/>
<rect x="240.30" y="551.84" width="11.60" height="11.20" fill="#d4d4d4" stroke="#444" stroke-width="1.1"/>
<circle cx="73.90" cy="711.97" r="5.00" fill="#f0f0f0" stroke="#222" stroke-width="1.1"/>
<circle cx="82.10" cy="699.43" r="5.00" fill="#f0f0f0" stroke="#222" stroke-width="1.1"/>
<circle cx="90.30" cy="683.15" r="5.00" fill="#f0f0f0" stroke="#222" stroke-width="1.1"/>
<circle cx="98.50" cy="669.72" r="5.00" fill="#f0f0f0" stroke="#222" stroke-width="1.1"/>
<circle cx="106.70" cy="662.10" r="5.00" fill="#f0f0f0" stroke="#222" stroke-width="1.1"/>
<circle cx="114.90" cy="646.87" r="5.00" fill="#f0f0f0" stroke="#222" stroke-width="1.1"/>
<circle cx="123.10" cy="640.30" r="5.00" fill="#f0f0f0" stroke="#222" stroke-width="1.1"/>
<circle cx="131.30" cy="631.49" r="5.00" fill="#f0f0f0" stroke="#222" stroke-width="1.1"/>
<circle cx="139.50" cy="618.80" r="5.00" fill="#f0f0f0" stroke="#222" stroke-width="1.1"/>
<circle cx="147.70" cy="602.38" r="5.00" fill="#f0f0f0" stroke="#222" stroke-width="1.1"/>
<circle cx="155.90" cy="598.65" r="5.00" fill="#f0f0f0" stroke="#222" stroke-width="1.1"/>
<circle cx="164.10" cy="595.81" r="5.00" fill="#f0f0f0" stroke="#222" stroke-width="1.1"/>
<circle cx="172.30" cy="593.42" r="5.00" fill="#f0f0f0" stroke="#222" stroke-width="1.1"/>
<circle cx="180.50" cy="586.56" r="5.00" fill="#f0f0f0" stroke="#222" stroke-width="1.1"/>
<circle cx="188.70" cy="579.54" r="5.00" fill="#f0f0f0" stroke="#222" stroke-width="1.1"/>
<circle cx="196.90" cy="575.06" r="5.00" fill="#f0f0f0" stroke="#222" stroke-width="1.1"/>
<circle cx="205.10" cy="569.68" r="5.00" fill="#f0f0f0" stroke="#222" stroke-width="1.1"/>
<circle cx="213.30" cy="564.01" r="5.00" fill="#f0f0f0" stroke="#222" stroke-width="1.1"/>
<circle cx="221.50" cy="563.71" r="5.00" fill="#f0f0f0" stroke="#222" stroke-width="1.1"/>
<circle cx="229.70" cy="557.44" r="5.00" fill="#f0f0f0" stroke="#222" stroke-width="1.1"/>
<circle cx="237.90" cy="557.44" r="5.00" fill="#f0f0f0" stroke="#222" stroke-width="1.1"/>
<circle cx="246.10" cy="554.46" r="5.00" fill="#f0f0f0" stroke="#222" stroke-width="1.1"/>
<polygon points="73.90,706.72 79.65,717.22 68.15,717.22" fill="#fff" stroke="#111" stroke-width="1.3" stroke-linejoin="miter"/>
<polygon points="82.10,694.18 87.85,704.68 76.35,704.68" fill="#fff" stroke="#111" stroke-width="1.3" stroke-linejoin="miter"/>
<polygon points="90.30,677.90 96.05,688.40 84.55,688.40" fill="#fff" stroke="#111" stroke-width="1.3" stroke-linejoin="miter"/>
<polygon points="98.50,662.82 104.25,673.32 92.75,673.32" fill="#fff" stroke="#111" stroke-width="1.3" stroke-linejoin="miter"/>
<polygon points="106.70,654.01 112.45,664.51 100.95,664.51" fill="#fff" stroke="#111" stroke-width="1.3" stroke-linejoin="miter"/>
<polygon points="114.90,650.88 120.65,661.38 109.15,661.38" fill="#fff" stroke="#111" stroke-width="1.3" stroke-linejoin="miter"/>
<polygon points="123.10,647.89 128.85,658.39 117.35,658.39" fill="#fff" stroke="#111" stroke-width="1.3" stroke-linejoin="miter"/>
<polygon points="131.30,645.50 137.05,656.00 125.55,656.00" fill="#fff" stroke="#111" stroke-width="1.3" stroke-linejoin="miter"/>
<polygon points="139.50,636.25 145.25,646.75 133.75,646.75" fill="#fff" stroke="#111" stroke-width="1.3" stroke-linejoin="miter"/>
<polygon points="147.70,631.02 153.45,641.52 141.95,641.52" fill="#fff" stroke="#111" stroke-width="1.3" stroke-linejoin="miter"/>
<polygon points="155.90,626.99 161.65,637.49 150.15,637.49" fill="#fff" stroke="#111" stroke-width="1.3" stroke-linejoin="miter"/>
<polygon points="164.10,627.74 169.85,638.24 158.35,638.24" fill="#fff" stroke="#111" stroke-width="1.3" stroke-linejoin="miter"/>
<rect x="172.40" y="620.40" width="3.40" height="14.40" fill="#000"/>
<rect x="170.00" y="623.40" width="9.10" height="3.30" fill="#000"/>
<rect x="142.30" y="645.00" width="103.50" height="79.00" fill="#fff"/>
<line x1="151.50" y1="661.80" x2="180.30" y2="661.80" stroke="#555" stroke-width="1.3" />
<rect x="159.60" y="655.90" width="12.00" height="12.00" fill="#d2d2d2" stroke="#333" stroke-width="1.1"/>
<line x1="151.50" y1="685.50" x2="180.30" y2="685.50" stroke="#555" stroke-width="1.3" />
<circle cx="165.40" cy="685.50" r="5.80" fill="#f2f2f2" stroke="#222" stroke-width="1.2"/>
<line x1="151.50" y1="709.00" x2="180.30" y2="709.00" stroke="#666" stroke-width="1.8" />
<polygon points="165.40,703.30 171.65,714.90 159.15,714.90" fill="#fff" stroke="#111" stroke-width="1.3" stroke-linejoin="miter"/>
<text transform="translate(186.67,670.30) scale(1.0655,1)" font-size="27.57" font-weight="bold">CM</text>
<text transform="translate(186.69,693.60) scale(1.0612,1)" font-size="26.81" font-weight="bold">AE</text>
<text transform="translate(186.34,717.50) scale(1.0644,1)" font-size="27.57" font-weight="bold">MIG</text>
<defs>
<linearGradient id="gbase" gradientUnits="userSpaceOnUse" x1="0" y1="133.0" x2="0" y2="504.0"><stop offset="0.000" stop-color="rgb(195,195,195)"/><stop offset="0.073" stop-color="rgb(194,194,194)"/><stop offset="0.181" stop-color="rgb(192,192,192)"/><stop offset="0.342" stop-color="rgb(190,190,190)"/><stop offset="0.450" stop-color="rgb(192,192,192)"/><stop offset="0.639" stop-color="rgb(194,194,194)"/><stop offset="0.868" stop-color="rgb(198,198,198)"/><stop offset="1.000" stop-color="rgb(205,205,205)"/></linearGradient>
<linearGradient id="glane1" gradientUnits="userSpaceOnUse" x1="0" y1="133.0" x2="0" y2="504.0"><stop offset="0.000" stop-color="#000" stop-opacity="0.108"/><stop offset="0.073" stop-color="#000" stop-opacity="0.139"/><stop offset="0.181" stop-color="#000" stop-opacity="0.151"/><stop offset="0.342" stop-color="#000" stop-opacity="0.121"/><stop offset="0.450" stop-color="#000" stop-opacity="0.073"/><stop offset="0.639" stop-color="#000" stop-opacity="0.036"/><stop offset="0.868" stop-color="#000" stop-opacity="0.025"/><stop offset="1.000" stop-color="#000" stop-opacity="0.020"/></linearGradient>
<linearGradient id="glane2" gradientUnits="userSpaceOnUse" x1="0" y1="133.0" x2="0" y2="504.0"><stop offset="0.000" stop-color="#000" stop-opacity="0.164"/><stop offset="0.073" stop-color="#000" stop-opacity="0.278"/><stop offset="0.181" stop-color="#000" stop-opacity="0.323"/><stop offset="0.342" stop-color="#000" stop-opacity="0.300"/><stop offset="0.450" stop-color="#000" stop-opacity="0.177"/><stop offset="0.639" stop-color="#000" stop-opacity="0.113"/><stop offset="0.868" stop-color="#000" stop-opacity="0.076"/><stop offset="1.000" stop-color="#000" stop-opacity="0.039"/></linearGradient>
<linearGradient id="glane3" gradientUnits="userSpaceOnUse" x1="0" y1="133.0" x2="0" y2="504.0"><stop offset="0.000" stop-color="#000" stop-opacity="0.144"/><stop offset="0.073" stop-color="#000" stop-opacity="0.180"/><stop offset="0.181" stop-color="#000" stop-opacity="0.203"/><stop offset="0.342" stop-color="#000" stop-opacity="0.184"/><stop offset="0.450" stop-color="#000" stop-opacity="0.125"/><stop offset="0.639" stop-color="#000" stop-opacity="0.077"/><stop offset="0.868" stop-color="#000" stop-opacity="0.045"/><stop offset="1.000" stop-color="#000" stop-opacity="0.029"/></linearGradient>
<filter id="blur3" x="-50%" y="-50%" width="200%" height="200%" color-interpolation-filters="sRGB"><feGaussianBlur stdDeviation="4"/></filter>
<filter id="blurL" x="-50%" y="-10%" width="200%" height="120%" color-interpolation-filters="sRGB"><feGaussianBlur stdDeviation="2.5 1"/></filter>
<filter id="gelnoise" filterUnits="userSpaceOnUse" x="344" y="133.0" width="127" height="371.0" color-interpolation-filters="sRGB">
 <feTurbulence type="fractalNoise" baseFrequency="0.5" numOctaves="2" seed="11" result="n"/>
 <feColorMatrix in="n" type="matrix" values="1 0 0 0 0  1 0 0 0 0  1 0 0 0 0  0 0 0 0 1" result="ng"/>
 <feComposite in="SourceGraphic" in2="ng" operator="arithmetic" k1="0" k2="1" k3="0.27" k4="-0.135" result="a"/>
 <feTurbulence type="fractalNoise" baseFrequency="0.07 0.05" numOctaves="2" seed="5" result="m"/>
 <feColorMatrix in="m" type="matrix" values="1 0 0 0 0  1 0 0 0 0  1 0 0 0 0  0 0 0 0 1" result="mg"/>
 <feComposite in="a" in2="mg" operator="arithmetic" k1="0" k2="1" k3="0.10" k4="-0.05"/>
</filter>
<clipPath id="gelclip"><rect x="344.2" y="133.0" width="126" height="371.0"/></clipPath>
</defs>
<g clip-path="url(#gelclip)"><g filter="url(#gelnoise)">
<rect x="344.20" y="133.00" width="126.00" height="371.00" fill="url(#gbase)"/>
<g filter="url(#blurL)">
<rect x="350.00" y="110.00" width="31.00" height="420.00" fill="url(#glane1)"/>
<rect x="387.50" y="110.00" width="38.50" height="420.00" fill="url(#glane2)"/>
<rect x="431.50" y="110.00" width="42.00" height="420.00" fill="url(#glane3)"/>
</g>
<rect x="341" y="125" width="8" height="390" fill="#fff" fill-opacity="0.13" filter="url(#blurL)"/>
<g filter="url(#blur3)">
<ellipse cx="366" cy="428.5" rx="17" ry="7" fill="#000" fill-opacity="0.26"/>
<ellipse cx="411.5" cy="409.6" rx="16" ry="7" fill="#000" fill-opacity="0.36"/>
<ellipse cx="415" cy="427" rx="12" ry="6" fill="#000" fill-opacity="0.14"/>
<ellipse cx="410" cy="372" rx="15" ry="24" fill="#000" fill-opacity="0.07"/>
<ellipse cx="415" cy="329" rx="15" ry="10" fill="#000" fill-opacity="0.36"/>
<ellipse cx="449.5" cy="303" rx="17" ry="7.5" fill="#000" fill-opacity="0.33"/>
</g>
</g>
<filter id="nb" x="-50%" y="-50%" width="200%" height="200%"><feGaussianBlur stdDeviation="1.3"/></filter>
<path d="M464,131 L472,131 L472,146 Z" fill="#2a2a2a" fill-opacity="0.9" filter="url(#nb)"/>
</g>
<text transform="translate(283.52,22.20) scale(0.9202,1)" font-size="33.04" font-weight="bold">D</text>
<text transform="translate(284.75,274.60) scale(0.9784,1)" font-size="22.57">4000</text>
<rect x="336.00" y="265.40" width="6.20" height="2.80" fill="#000"/>
<text transform="translate(285.12,345.00) scale(0.9708,1)" font-size="22.57">3000</text>
<rect x="336.00" y="335.80" width="6.20" height="2.80" fill="#000"/>
<text transform="translate(284.49,435.60) scale(0.9836,1)" font-size="22.57">2000</text>
<rect x="336.00" y="426.40" width="6.20" height="2.80" fill="#000"/>
<text transform="translate(284.33,459.80) scale(0.9869,1)" font-size="22.57">1650</text>
<rect x="336.00" y="450.60" width="6.20" height="2.80" fill="#000"/>
<text x="0.00" y="0.00" font-size="22.20" text-anchor="start" fill="#000" transform="translate(361.2,131.4) rotate(-41)">W26 CM5</text>
<text x="0.00" y="0.00" font-size="22.20" text-anchor="start" fill="#000" transform="translate(400.3,131.4) rotate(-41)">W9 CM8</text>
<text x="0.00" y="0.00" font-size="22.20" text-anchor="start" fill="#000" transform="translate(439.3,131.6) rotate(-41)">W10 CM17</text>
</svg>
</body></html>
